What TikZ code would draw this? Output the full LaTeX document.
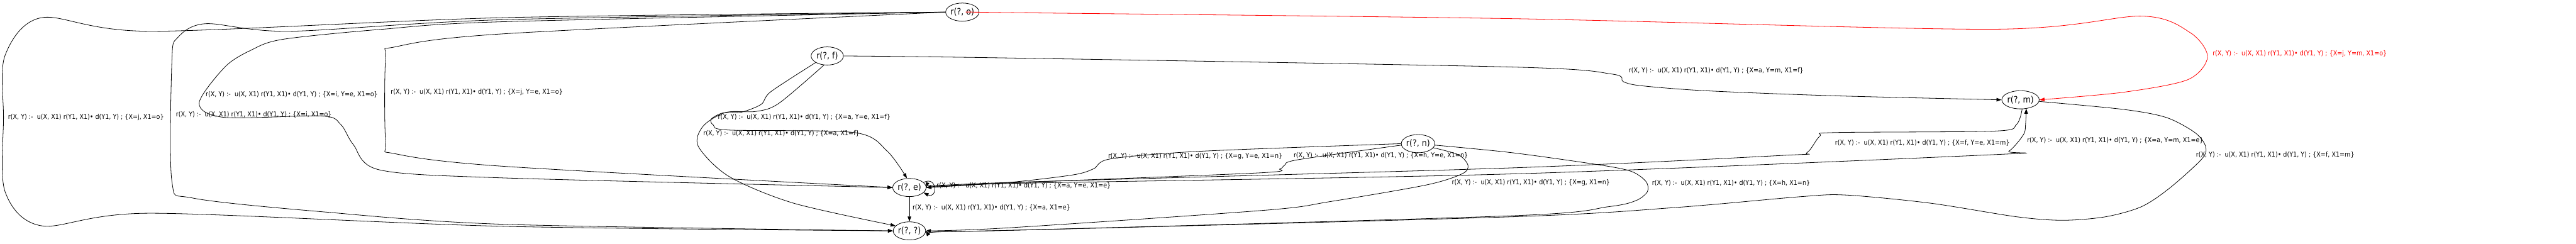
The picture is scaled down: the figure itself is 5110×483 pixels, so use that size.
\documentclass[tikz,border=0pt]{standalone}
\usepackage{fontspec}
\setmainfont{DejaVu Sans}[FakeStretch=0.9]
\usepackage{tikz}
\usetikzlibrary{arrows.meta,shapes.geometric}

\newcommand{\ruletext}[1]{r(X, Y) :-\ \ u(X, X1) r(Y1, X1)• d(Y1, Y) ; \{#1\}}

\begin{document}
\begin{tikzpicture}[x=1pt, y=-1pt,
    goal/.style={draw, ellipse, line width=1pt, minimum width=64pt, minimum height=36pt,
      inner sep=0pt, font=\fontsize{17.5}{20}\selectfont},
    link/.style={line width=1pt, -{Triangle[length=10pt,width=7pt]}},
    lbl/.style={anchor=west, inner sep=0pt, font=\fontsize{13.3}{15}\selectfont}]
  \useasboundingbox (0,0) rectangle (5110,483);

  \node[goal] (o) at (1909, 24) {r(?, o)};
  \node[goal] (f) at (1641, 111) {r(?, f)};
  \node[goal] (e) at (1804, 372) {r(?, e)};
  \node[goal] (q) at (1804, 458) {r(?, ?)};
  \node[goal] (n) at (2813, 285) {r(?, n)};
  \node[goal] (m) at (4008, 198) {r(?, m)};

  \draw[link] plot[smooth, tension=0.5] coordinates {(o.west) (1000,35) (300,62) (83,35) (10,110)
    (7,233) (10,380) (83,448) (300,423) (1000,449) (q.west)};
  \draw[link] plot[smooth, tension=0.5] coordinates {(o.west) (1000,39) (574,62) (408,47) (352,75)
    (341,120) (341,360) (383,393) (638,420) (1000,445) (q.west)};
  \draw[link] plot[smooth, tension=0.5] coordinates {(o.west) (1000,43) (759,58) (561,78) (497,100)
    (446,133) (395,205) (446,233) (638,230) (676,247) (701,287) (753,337) (1000,353) (e.west)};
  \draw[link] plot[smooth, tension=0.5] coordinates {(o.west) (1000,67) (784,93) (765,115)
    (765,282) (784,305) (1000,330) (e.west)};
  \draw[link, red] plot[smooth, tension=0.5] coordinates {(o.east) (2000,25) (3000,37) (3950,58)
    (4248,32) (4345,65) (4379,113) (4340,158) (4212,183) (m.east)};

  \draw[link] plot[smooth, tension=0.5] coordinates {(f.east) (2000,115) (3000,133) (3198,147)
    (3220,162) (3255,170) (3383,180) (3638,190) (m.west)};
  \draw[link] plot[smooth, tension=0.5] coordinates {(f.south west) (1529,182) (1510,207) (1469,223)
    (1434,224) (1411,236) (1415,248) (1446,258) (1695,263) (1760,300) (e.105)};
  \draw[link] plot[smooth, tension=0.5] coordinates {(f.250) (1545,205) (1500,221) (1440,223)
    (1395,250) (1385,290) (1446,350) (1574,403) (q.160)};

  \draw[link] (e.20) .. controls +(28,-14) and +(28,14) .. (e.-20);
  \draw[link] (e) -- (q);
  \draw[link] plot[smooth, tension=0.5] coordinates {(e.east) (2000,364) (3000,345) (3950,307)
    (3985,300) (4014,267) (4018,247) (m.-57)};

  \draw[link] plot[smooth, tension=0.5] coordinates {(m.-80) (4000,247) (3957,260) (3638,263)
    (3610,270) (3584,303) (3542,308) (3000,333) (2000,362) (e.east)};
  \draw[link] plot[smooth, tension=0.5] coordinates {(m.-5) (4212,217) (4297,233) (4354,263)
    (4375,290) (4368,315) (4304,373) (4248,410) (4177,430) (4092,437) (4000,430) (3829,403)
    (3663,387) (3574,390) (3319,412) (3000,430) (2000,457) (q.east)};

  \draw[link] plot[smooth, tension=0.5] coordinates {(n.west) (2383,300) (2204,315) (2169,335)
    (2128,347) (2000,362) (e.east)};
  \draw[link] plot[smooth, tension=0.5] coordinates {(n.185) (2574,317) (2548,328) (2539,335)
    (2497,343) (2000,363) (e.east)};
  \draw[link] plot[smooth, tension=0.5] coordinates {(n.-15) (2893,307) (2912,328) (2900,345)
    (2829,367) (2638,400) (2510,417) (2000,452) (q.east)};
  \draw[link] plot[smooth, tension=0.5] coordinates {(n.-5) (3000,303) (3172,327) (3236,340)
    (3265,360) (3268,380) (3245,398) (3191,410) (3000,428) (2000,457) (q.east)};

  \node[lbl] (la) at (16,233) {\ruletext{X=j, X1=o}};
  \node[lbl] (lb) at (349,228) {\ruletext{X=i, X1=o}};
  \node[lbl] (lc) at (408,187) {\ruletext{X=i, Y=e, X1=o}};
  \node[lbl] (ld) at (775,183) {\ruletext{X=j, Y=e, X1=o}};
  \node[lbl, red] (lred) at (4389,107) {\ruletext{X=j, Y=m, X1=o}};
  \node[lbl] (lfm) at (3231,140) {\ruletext{X=a, Y=m, X1=f}};
  \node[lbl] (lfe) at (1424,233) {\ruletext{X=a, Y=e, X1=f}};
  \node[lbl] (lfq) at (1395,265) {\ruletext{X=a, X1=f}};
  \node[lbl] (lee) at (1858,368) {\ruletext{X=a, Y=e, X1=e}};
  \node[lbl] (leq) at (1810,412) {\ruletext{X=a, X1=e}};
  \node[lbl] (lem) at (4021,278) {\ruletext{X=a, Y=m, X1=e}};
  \node[lbl] (lme) at (3640,283) {\ruletext{X=f, Y=e, X1=m}};
  \node[lbl] (lmq) at (4356,307) {\ruletext{X=f, X1=m}};
  \node[lbl] (lne1) at (2198,310) {\ruletext{X=g, Y=e, X1=n}};
  \node[lbl] (lne2) at (2566,308) {\ruletext{X=h, Y=e, X1=n}};
  \node[lbl] (lnq1) at (2880,363) {\ruletext{X=g, X1=n}};
  \node[lbl] (lnq2) at (3277,364) {\ruletext{X=h, X1=n}};
\end{tikzpicture}
\end{document}
